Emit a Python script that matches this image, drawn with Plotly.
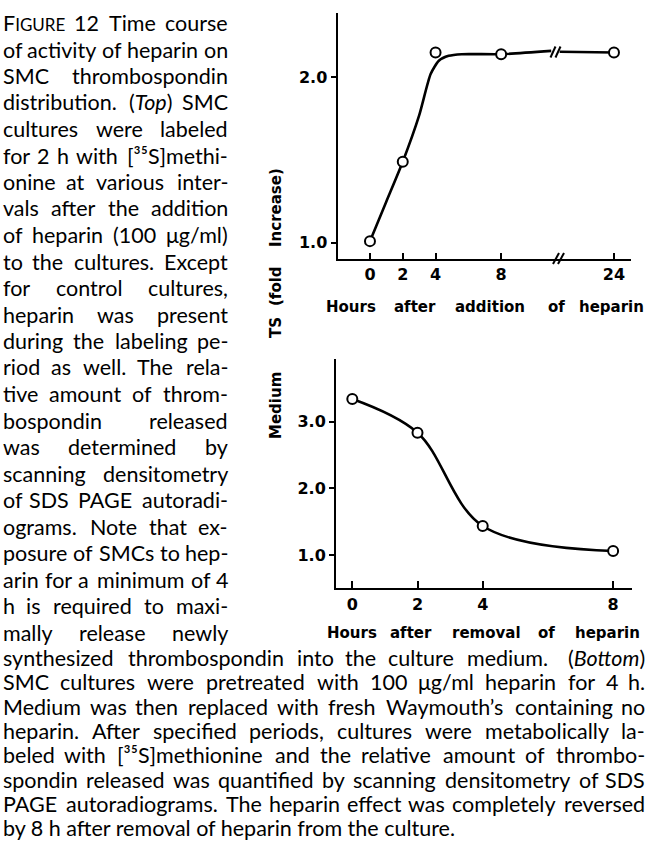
import re
import plotly.graph_objects as go

W, H = 648, 857

# ---------------- data ----------------
# Top panel: hours after addition of heparin
top_hours = [0, 2, 4, 8, 24]
top_fold = [1.01, 1.49, 2.15, 2.14, 2.15]
# smooth hand-fitted curve drawn through the points (two pieces around the axis break)
top_fit_hours_a = [0, 1, 2, 3, 3.7, 4.2, 4.8, 5.6, 8, 15.1]
top_fit_fold_a = [1.01, 1.25, 1.49, 1.77, 2.02, 2.10, 2.13, 2.14, 2.14, 2.16]
top_fit_hours_b = [16.3, 24]
top_fit_fold_b = [2.155, 2.15]
top_tick_hours = [0, 2, 4, 8, 24]
top_tick_text = ["0", "2", "4", "8", "24"]
top_y_ticks = [1.0, 2.0]
top_y_text = ["1.0", "2.0"]

# Bottom panel: hours after removal of heparin
bot_hours = [0, 2, 4, 8]
bot_fold = [3.34, 2.835, 1.435, 1.06]
bot_tick_hours = [0, 2, 4, 8]
bot_tick_text = ["0", "2", "4", "8"]
bot_y_ticks = [1.0, 2.0, 3.0]
bot_y_text = ["1.0", "2.0", "3.0"]

y_title_words = ["Medium", "TS", "(fold", "Increase)"]
top_x_title_words = ["Hours", "after", "addition", "of", "heparin"]
bot_x_title_words = ["Hours", "after", "removal", "of", "heparin"]

caption_lines = [
    "F{sc}IGURE{/sc} 12 Time course",
    "of activity of heparin on",
    "SMC thrombospondin",
    "distribution. (<i>Top</i>) SMC",
    "cultures were labeled",
    "for 2 h with [³⁵S]methi-",
    "onine at various inter-",
    "vals after the addition",
    "of heparin (100 μg/ml)",
    "to the cultures. Except",
    "for control cultures,",
    "heparin was present",
    "during the labeling pe-",
    "riod as well. The rela-",
    "tive amount of throm-",
    "bospondin released",
    "was determined by",
    "scanning densitometry",
    "of SDS PAGE autoradi-",
    "ograms. Note that ex-",
    "posure of SMCs to hep-",
    "arin for a minimum of 4",
    "h is required to maxi-",
    "mally release newly",
    "synthesized thrombospondin into the culture medium. (<i>Bottom</i>)",
    "SMC cultures were pretreated with 100 μg/ml heparin for 4 h.",
    "Medium was then replaced with fresh Waymouth’s containing no",
    "heparin. After specified periods, cultures were metabolically la-",
    "beled with [³⁵S]methionine and the relative amount of thrombo-",
    "spondin released was quantified by scanning densitometry of SDS",
    "PAGE autoradiograms. The heparin effect was completely reversed",
    "by 8 h after removal of heparin from the culture.",
]


def broken(h):
    """Top x axis is broken after 8 h: compress the 8-24 h stretch."""
    return h if h <= 8 else 8 + (h - 8) * 0.43


def px(x):
    return x / W


def py(y):
    return 1 - y / H


BOLD = dict(family="DejaVu Sans", size=16, color="black", weight="bold")
TITLE_FONT = dict(family="DejaVu Sans", size=15, color="black", weight="bold")
CAP_SIZE = 21.5
CAP_FONT = dict(family="Lato, 'Open Sans', sans-serif", size=CAP_SIZE, color="black")

fig = go.Figure()

line_style = dict(color="black", width=2.6)
marker_style = dict(symbol="circle", size=10, color="white", line=dict(color="black", width=2))

# top panel
fig.add_trace(go.Scatter(x=[broken(h) for h in top_fit_hours_a], y=top_fit_fold_a, mode="lines",
                         line=dict(shape="spline", smoothing=0.6, **line_style), xaxis="x", yaxis="y",
                         hoverinfo="skip"))
fig.add_trace(go.Scatter(x=[broken(h) for h in top_fit_hours_b], y=top_fit_fold_b, mode="lines",
                         line=line_style, xaxis="x", yaxis="y", hoverinfo="skip"))
fig.add_trace(go.Scatter(x=[broken(h) for h in top_hours], y=top_fold, mode="markers",
                         marker=marker_style, xaxis="x", yaxis="y", cliponaxis=False))

# bottom panel
fig.add_trace(go.Scatter(x=bot_hours, y=bot_fold, mode="lines",
                         line=dict(shape="spline", smoothing=1.0, **line_style), xaxis="x2", yaxis="y2",
                         hoverinfo="skip"))
fig.add_trace(go.Scatter(x=bot_hours, y=bot_fold, mode="markers",
                         marker=marker_style, xaxis="x2", yaxis="y2", cliponaxis=False))

axis_common = dict(showline=True, linecolor="black", linewidth=2, showgrid=False, zeroline=False,
                   tickcolor="black", tickwidth=2, tickfont=BOLD, fixedrange=True)

fig.update_layout(
    width=W, height=H, autosize=False,
    margin=dict(l=0, r=0, t=0, b=0, pad=0),
    paper_bgcolor="white", plot_bgcolor="white",
    showlegend=False,
    xaxis=dict(domain=[px(337.5), px(630.7)], anchor="y", range=[-1.98, 15.9],
               tickmode="array", tickvals=[broken(h) for h in top_tick_hours], ticktext=top_tick_text,
               ticks="inside", ticklen=6, **axis_common),
    yaxis=dict(domain=[py(259), py(13)], anchor="x", range=[0.902, 2.389],
               tickmode="array", tickvals=top_y_ticks, ticktext=top_y_text,
               ticks="outside", ticklen=5, **axis_common),
    xaxis2=dict(domain=[px(336), px(631.7)], anchor="y2", range=[-0.5, 8.57],
                tickmode="array", tickvals=bot_tick_hours, ticktext=bot_tick_text,
                ticks="inside", ticklen=7, **axis_common),
    yaxis2=dict(domain=[py(588.3), py(359.3)], anchor="x2", range=[0.50, 3.936],
                tickmode="array", tickvals=bot_y_ticks, ticktext=bot_y_text,
                ticks="outside", ticklen=5, **axis_common),
)

# break marks (axis and curve)
shapes = []
for (x0, y0, x1, y1) in [(553, 264, 559, 253), (558, 264, 564, 253),
                         (550.5, 57.5, 555.5, 46.5), (555.5, 57.5, 560.5, 46.5)]:
    shapes.append(dict(type="line", xref="paper", yref="paper", x0=px(x0), y0=py(y0), x1=px(x1), y1=py(y1),
                       line=dict(color="black", width=2)))
fig.update_layout(shapes=shapes)

annotations = []

# axis titles, word by word (wide tracking in the original)
for word, cx in zip(top_x_title_words, [351, 414.5, 490, 556, 611.5]):
    annotations.append(dict(text=word, x=px(cx), y=py(307), xref="paper", yref="paper", showarrow=False,
                            xanchor="center", yanchor="middle", font=TITLE_FONT))
for word, cx in zip(bot_x_title_words, [352, 411, 486, 546, 607]):
    annotations.append(dict(text=word, x=px(cx), y=py(633), xref="paper", yref="paper", showarrow=False,
                            xanchor="center", yanchor="middle", font=TITLE_FONT))
for word, cy in zip(y_title_words, [406, 328, 286, 208]):
    annotations.append(dict(text=word, x=px(276), y=py(cy), xref="paper", yref="paper", showarrow=False,
                            xanchor="center", yanchor="middle", textangle=-90, font=TITLE_FONT))

# ---------------- caption, justified word by word ----------------
CW = {}
CW.update(dict(a=.503, b=.553, c=.458, d=.553, e=.518, f=.336, g=.505, h=.553, i=.236, j=.236, k=.5,
               l=.236, m=.83, n=.553, o=.555, p=.55, q=.553, r=.38, s=.43, t=.36, u=.553, v=.505,
               w=.755, x=.495, y=.505, z=.45))
CW.update(dict(A=.68, B=.64, C=.67, D=.74, E=.56, F=.54, G=.72, H=.75, I=.28, J=.38, K=.67, L=.49,
               M=.9, N=.75, O=.79, P=.6, Q=.79, R=.62, S=.53, T=.59, U=.72, V=.68, W=1.0, X=.66,
               Y=.63, Z=.6))
for dgt in "0123456789":
    CW[dgt] = .58
CW.update({".": .22, ",": .22, "(": .3, ")": .3, "-": .36, "[": .3, "]": .3, "/": .4, "'": .2,
           "’": .2, "μ": .56, "³": .36, "⁵": .36})
WIDTH_FUDGE = 1.03

SC_SIZE = round(CAP_SIZE * 0.78)


def est_width(word):
    scale = 1.0
    total = 0.0
    for tok in re.split(r"(\{/?\w+\}|</?i>)", word):
        if tok == "{sc}":
            scale = SC_SIZE / CAP_SIZE
        elif tok == "{/sc}":
            scale = 1.0
        elif tok in ("<i>", "</i>"):
            continue
        else:
            for ch in tok:
                total += CW.get(ch, .5) * scale
    return total * CAP_SIZE * WIDTH_FUDGE


def to_html(word):
    return word.replace("{sc}", "<span style='font-size:%dpx'>" % SC_SIZE).replace("{/sc}", "</span>")


for idx, line in enumerate(caption_lines):
    if idx < 24:
        yc, L, R = 23 + 26.5 * idx, 2, 229
    else:
        yc, L, R = 658 + 24.3 * (idx - 24), 2, 646
    words = line.split(" ")
    if idx == len(caption_lines) - 1:
        annotations.append(dict(text=to_html(line), x=px(L), y=py(yc), xref="paper", yref="paper",
                                showarrow=False, xanchor="left", yanchor="middle", font=CAP_FONT,
                                borderpad=0))
        continue
    widths = [est_width(w) for w in words]
    gap = (R - L - sum(widths)) / (len(words) - 1)
    xcur = L
    for k, w in enumerate(words):
        if k == 0:
            xa, anchor = L, "left"
        elif k == len(words) - 1:
            xa, anchor = R, "right"
        else:
            xa, anchor = xcur + widths[k] / 2, "center"
        annotations.append(dict(text=to_html(w), x=px(xa), y=py(yc), xref="paper", yref="paper",
                                showarrow=False, xanchor=anchor, yanchor="middle", font=CAP_FONT,
                                borderpad=0))
        xcur += widths[k] + gap

fig.update_layout(annotations=annotations)

# remove the browser's default 8px page margin so the 648x857 figure fills the window exactly
fig.write_html("out.html", config={"displayModeBar": False},
               post_script="document.body.style.margin='0';")
